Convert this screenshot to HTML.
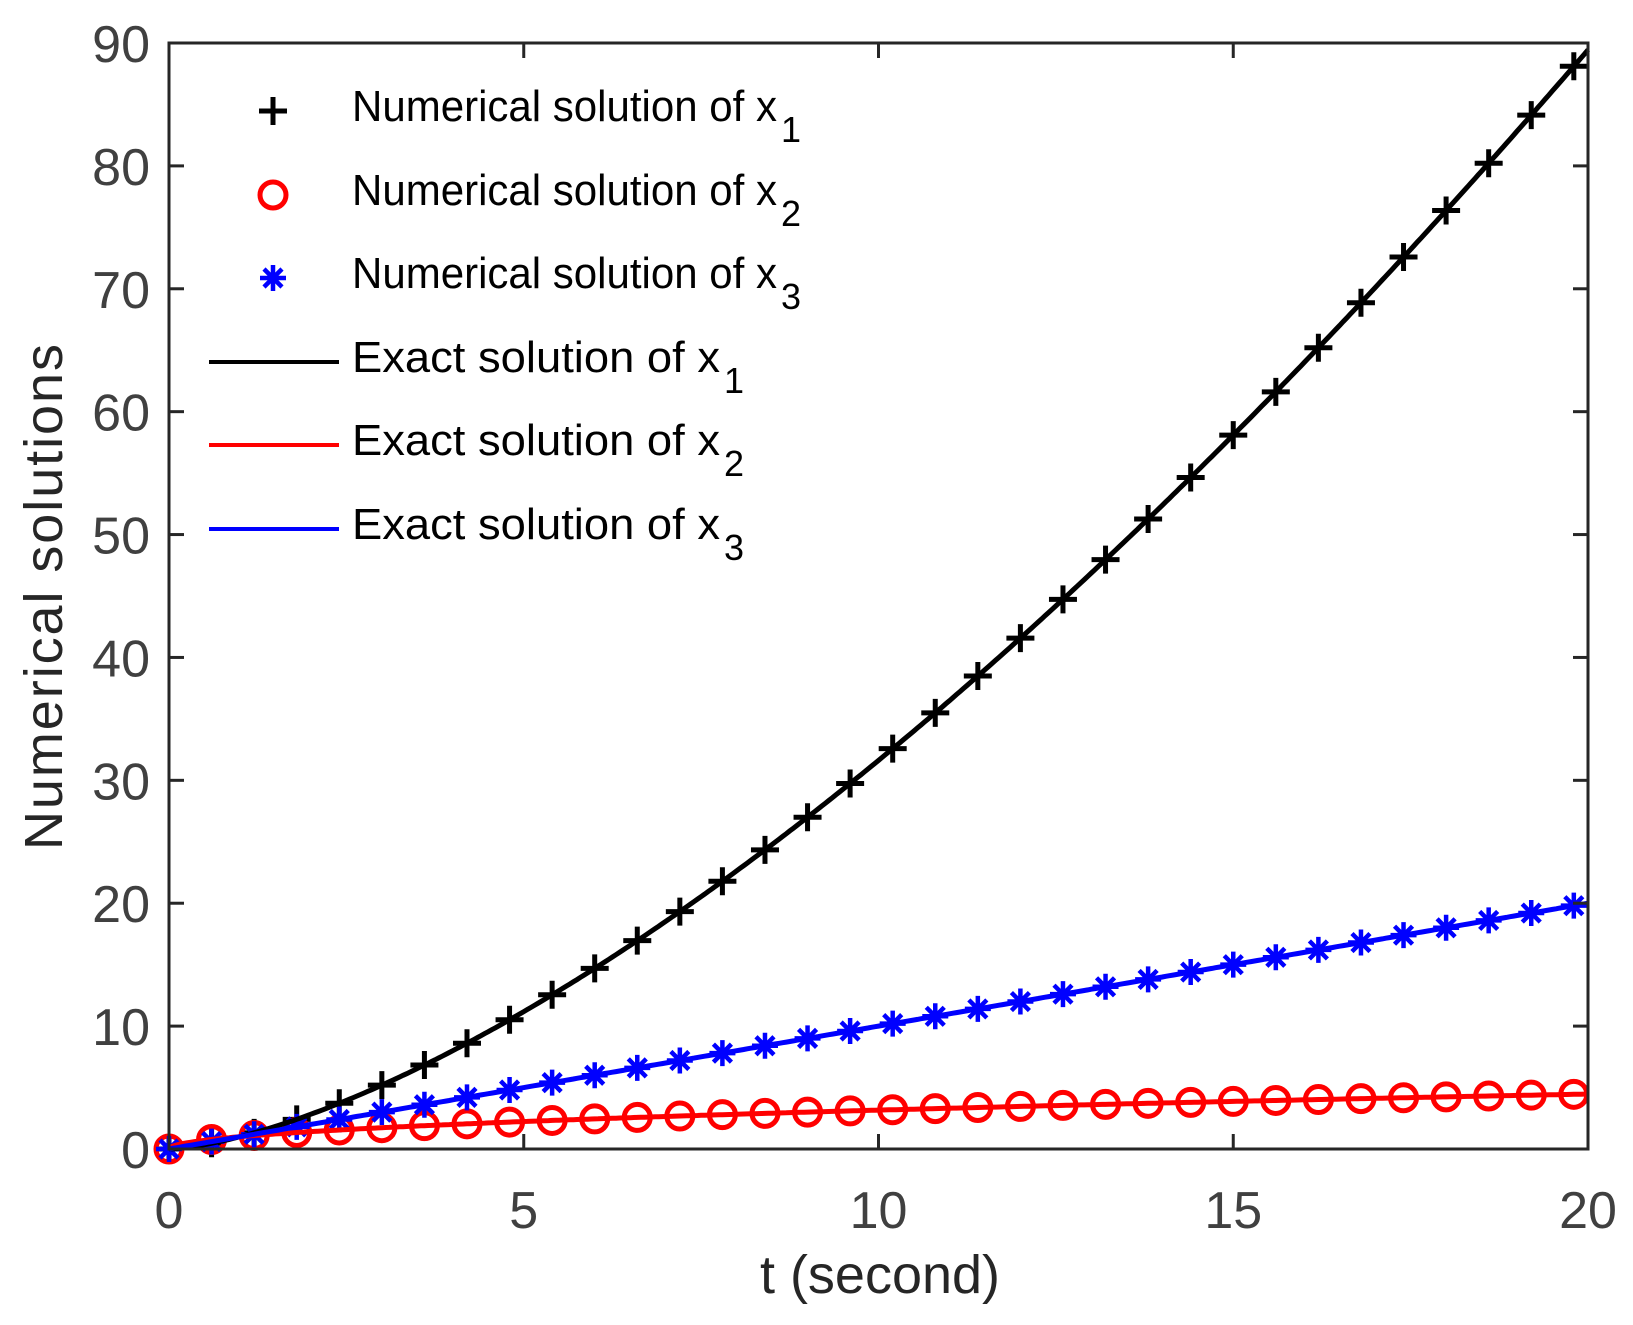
<!DOCTYPE html>
<html><head><meta charset="utf-8"><style>html,body{margin:0;padding:0;background:#fff}svg{display:block}</style></head>
<body>
<svg id="s" width="1633" height="1325" xmlns="http://www.w3.org/2000/svg" font-family="Liberation Sans, sans-serif">
<rect width="1633" height="1325" fill="#fff"/>
<g id="plot"></g>
<g stroke="#262626" stroke-width="3" fill="none" id="axes">
<rect x="169" y="43" width="1419" height="1106"/>
</g>
<g id="ticks" stroke="#262626" stroke-width="3"></g>
<g id="labels" fill="#404040" font-size="52"></g>
<text x="880" y="1293" font-size="54" fill="#262626" text-anchor="middle">t (second)</text>
<text transform="translate(62,597) rotate(-90)" font-size="54" fill="#262626" text-anchor="middle" textLength="506">Numerical solutions</text>
<g id="legend" font-size="44" fill="#000"></g>
</svg>
<script>
const NS="http://www.w3.org/2000/svg";
const X0=169,X1=1588,Y0=1149,Y1=43;
const sx=t=>X0+t*(X1-X0)/20, sy=v=>Y0-v*(Y0-Y1)/90;
function el(p,tag,a,txt){const e=document.createElementNS(NS,tag);for(const k in a)e.setAttribute(k,a[k]);if(txt!=null)e.textContent=txt;p.appendChild(e);return e;}
const plot=document.getElementById('plot'),ticks=document.getElementById('ticks'),labels=document.getElementById('labels'),leg=document.getElementById('legend');
for(let i=0;i<=4;i++){const x=sx(i*5);el(ticks,'line',{x1:x,y1:Y0,x2:x,y2:Y0-15});el(ticks,'line',{x1:x,y1:Y1,x2:x,y2:Y1+15});
 el(labels,'text',{x:x,y:1228,'text-anchor':'middle'},String(i*5));}
for(let i=0;i<=9;i++){const y=sy(i*10);el(ticks,'line',{x1:X0,y1:y,x2:X0+15,y2:y});el(ticks,'line',{x1:X1,y1:y,x2:X1-15,y2:y});
 el(labels,'text',{x:150,y:y+19,'text-anchor':'end'},String(i*10));}
const fns=[t=>Math.pow(t,1.5),t=>Math.sqrt(t),t=>t], cols=['#000','#f00','#00f'];
function plus(p,x,y){el(p,'path',{d:`M${x-14} ${y}H${x+14}M${x} ${y-14}V${y+14}`,stroke:'#000','stroke-width':5,fill:'none'});}
function circ(p,x,y){el(p,'circle',{cx:x,cy:y,r:13,stroke:'#f00','stroke-width':5,fill:'none'});}
function star(p,x,y){let d=`M${x-13} ${y}H${x+13}M${x} ${y-13}V${y+13}M${x-9} ${y-9}L${x+9} ${y+9}M${x-9} ${y+9}L${x+9} ${y-9}`;el(p,'path',{d,stroke:'#00f','stroke-width':4.5,fill:'none'});}
const mk=[plus,circ,star];
for(let k=0;k<3;k++){for(let i=0;i<34;i++){const t=i*0.6;mk[k](plot,sx(t),sy(fns[k](t)));}}
for(let k=0;k<3;k++){let d='';for(let i=0;i<=400;i++){const t=i*0.05;d+=(i?'L':'M')+sx(t).toFixed(1)+' '+sy(fns[k](t)).toFixed(1);}
 el(plot,'path',{d,stroke:cols[k],'stroke-width':5,fill:'none'});}
const rows=[111,195,278,362,445,529];
const names=['Numerical solution of x','Numerical solution of x','Numerical solution of x','Exact solution of x','Exact solution of x','Exact solution of x'];
for(let r=0;r<6;r++){const y=rows[r];const k=r%3;
 if(r<3) mk[k](leg,273,y); else el(leg,'line',{x1:209,y1:y,x2:339,y2:y,stroke:cols[k],'stroke-width':4});
 const t=el(leg,'text',{x:352,y:y+10,lengthAdjust:'spacingAndGlyphs'});
 const len=r<3?425:368;
 t.setAttribute('textLength',len);t.textContent=names[r];
 el(leg,'text',{x:352+len+4,y:y+31,'font-size':36},String(k+1));
}
</script>
</body></html>
